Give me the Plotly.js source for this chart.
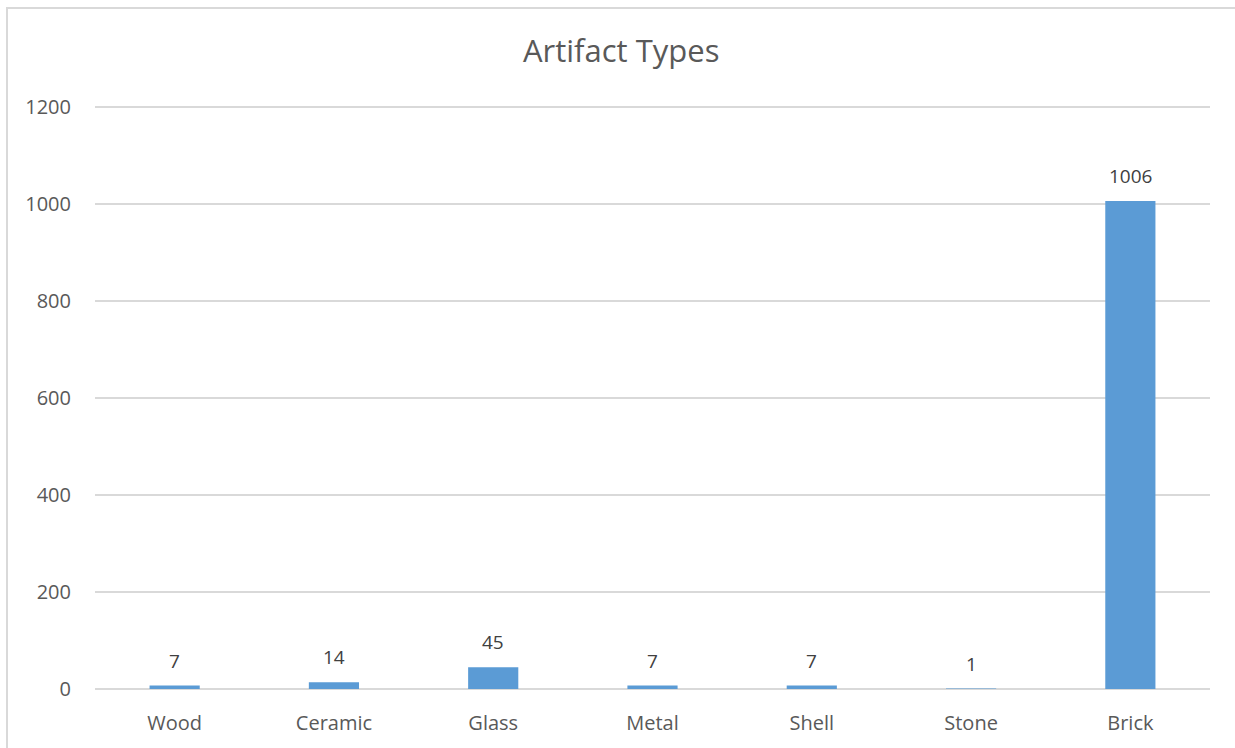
<!DOCTYPE html>
<html>
<head>
<meta charset="utf-8">
<script src="https://cdn.plot.ly/plotly-3.0.1.min.js"></script>
<style>
  html, body { margin: 0; padding: 0; background: #ffffff; }
  #wrap { position: relative; width: 1235px; height: 748px; overflow: hidden; }
  #chart { position: absolute; left: 0; top: 0; width: 1235px; height: 748px; }
  #frame { position: absolute; left: 6px; top: 7px; width: 1300px; height: 800px;
           border-left: 2px solid #d9d9d9; border-top: 2px solid #d9d9d9; pointer-events: none; }
</style>
</head>
<body>
<div id="wrap">
  <div id="chart"></div>
  <div id="frame"></div>
</div>
<script>
const categories = ["Wood", "Ceramic", "Glass", "Metal", "Shell", "Stone", "Brick"];
const counts = [7, 14, 45, 7, 7, 1, 1006];
const yTicks = [0, 200, 400, 600, 800, 1000, 1200];

const fontFamily = "'Open Sans', 'Liberation Sans', sans-serif";

const trace = {
  type: "bar",
  x: categories,
  y: counts,
  marker: { color: "#5B9BD5", line: { width: 0 } },
  hoverinfo: "x+y"
};

const annotations = categories.map((c, i) => ({
  x: c,
  y: counts[i],
  xref: "x",
  yref: "y",
  text: String(counts[i]),
  showarrow: false,
  yanchor: "bottom",
  yshift: 10,
  font: { family: fontFamily, size: 19, color: "#404040" }
}));

const layout = {
  width: 1235,
  height: 748,
  paper_bgcolor: "rgba(0,0,0,0)",
  plot_bgcolor: "rgba(0,0,0,0)",
  margin: { l: 95, r: 25, t: 102, b: 59 },
  bargap: 0.685,
  showlegend: false,
  title: {
    text: "Artifact Types",
    x: 0.503,
    xref: "container",
    xanchor: "center",
    y: 1 - 51 / 748,
    yref: "container",
    yanchor: "middle",
    font: { family: fontFamily, size: 31, color: "#595959" }
  },
  xaxis: {
    type: "category",
    showgrid: false,
    showline: false,
    zeroline: false,
    ticks: "outside",
    ticklen: 16,
    tickcolor: "rgba(0,0,0,0)",
    tickfont: { family: fontFamily, size: 20, color: "#595959" }
  },
  yaxis: {
    range: [0, 1210],
    tickvals: yTicks,
    ticktext: yTicks.map(String),
    showgrid: true,
    gridcolor: "#d9d9d9",
    gridwidth: 2,
    zeroline: true,
    zerolinecolor: "#d9d9d9",
    zerolinewidth: 2,
    showline: false,
    ticks: "outside",
    ticklen: 19,
    tickcolor: "rgba(0,0,0,0)",
    tickfont: { family: fontFamily, size: 20, color: "#595959" }
  },
  annotations: annotations
};

Plotly.newPlot("chart", [trace], layout, { staticPlot: true, displayModeBar: false });
</script>
</body>
</html>
